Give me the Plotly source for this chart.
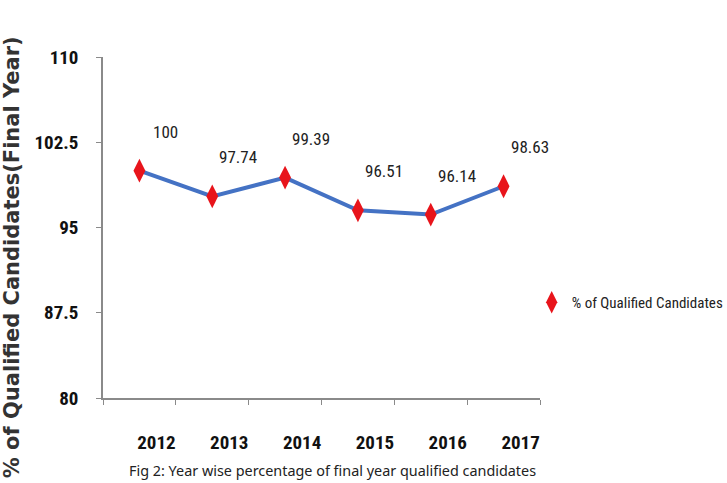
import plotly.graph_objects as go

years = ["2012", "2013", "2014", "2015", "2016", "2017"]
values = [100, 97.74, 99.39, 96.51, 96.14, 98.63]
value_labels = ["100", "97.74", "99.39", "96.51", "96.14", "98.63"]
y_ticks = [80, 87.5, 95, 102.5, 110]
series_name = "% of Qualified Candidates"
y_title = "% of Qualified Candidates(Final Year)"
caption = "Fig 2: Year wise percentage of final year qualified candidates"

NARROW = "Liberation Sans Narrow, Arial Narrow, Roboto Condensed, sans-serif"

fig = go.Figure()
fig.add_trace(go.Scatter(
    x=years, y=values, mode="lines",
    line=dict(color="#4472C4", width=4),
    showlegend=False, hoverinfo="skip"))
fig.add_trace(go.Scatter(
    x=years, y=values, mode="markers", name=series_name,
    marker=dict(symbol="diamond-tall", size=17, color="#E8141B",
                line=dict(width=0))))

for i, (v, t) in enumerate(zip(values, value_labels)):
    fig.add_annotation(x=i, y=v, text=t, showarrow=False,
                       xshift=26, yshift=39,
                       font=dict(family=NARROW, size=17, color="#222"))

fig.add_annotation(xref="paper", yref="paper", x=-0.208, y=0.413,
                   text=y_title, textangle=-90, showarrow=False,
                   xanchor="center", yanchor="middle",
                   font=dict(family="DejaVu Sans", size=21, color="#333",
                             weight="bold"))
fig.add_annotation(xref="paper", yref="paper", x=0.526, y=-0.214,
                   text=caption, showarrow=False,
                   xanchor="center", yanchor="middle",
                   font=dict(family="Noto Sans, Lato, sans-serif", size=14.4, color="#222"))

fig.update_layout(
    width=727, height=483,
    margin=dict(l=103, r=187, t=57, b=85, autoexpand=False),
    paper_bgcolor="white", plot_bgcolor="white",
    legend=dict(x=0.981, y=0.28, xanchor="left", yanchor="middle",
                font=dict(family=NARROW, size=15, color="#222"),
                bgcolor="rgba(0,0,0,0)"),
    xaxis=dict(type="category", categoryorder="array", categoryarray=years,
               range=[-0.5, len(years) - 0.5], autorange=False,
               tickson="boundaries", showline=True,
               linecolor="#8a8a8a", linewidth=1.5, ticks="outside",
               ticklen=5, tickcolor="#8a8a8a", showgrid=False,
               ticklabelshift=17, ticklabelstandoff=26, tickangle=0,
               tickfont=dict(family=NARROW, size=19, color="#111", weight="bold")),
    yaxis=dict(range=[80, 110], tickvals=y_ticks,
               ticktext=[f"{t:g}" for t in y_ticks],
               showline=True, linecolor="#8a8a8a", linewidth=1.5,
               ticks="outside", ticklen=5, tickcolor="#8a8a8a",
               showgrid=False, zeroline=False, ticklabelstandoff=14,
               tickfont=dict(family=NARROW, size=19, color="#111", weight="bold")),
)

fig.write_html("out.html")
